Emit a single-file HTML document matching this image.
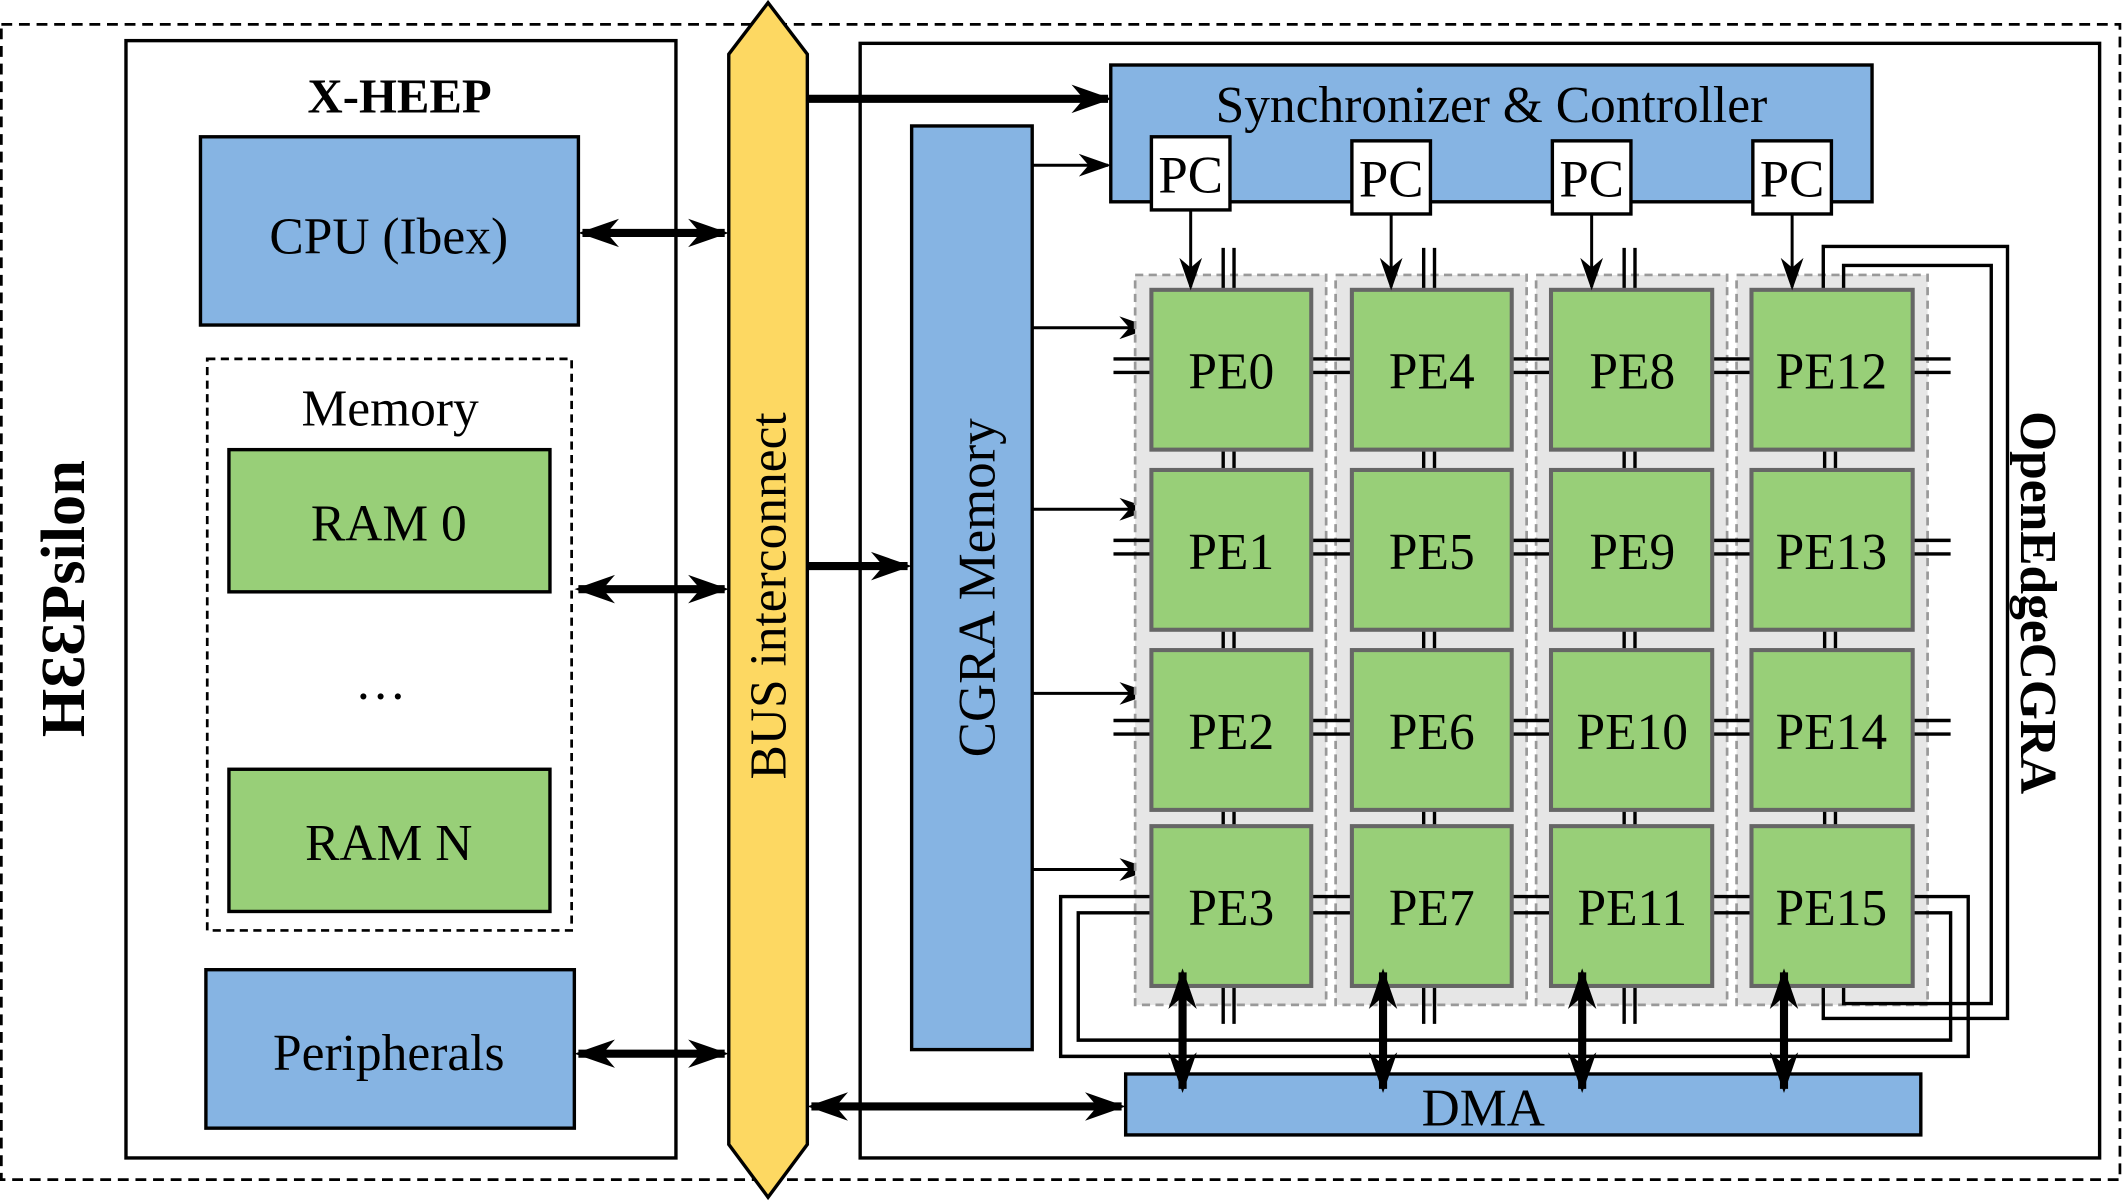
<!DOCTYPE html>
<html><head><meta charset="utf-8"><style>html,body{margin:0;padding:0;background:#fff}svg{display:block}</style></head>
<body>
<svg width="2124" height="1204" viewBox="0 0 1568 889" preserveAspectRatio="none" xmlns="http://www.w3.org/2000/svg" font-family="Liberation Serif, serif">
<defs>
<marker id="a" viewBox="0 0 10 10" markerWidth="24" markerHeight="24" refX="9" refY="5" orient="auto-start-reverse" markerUnits="userSpaceOnUse"><path d="M0,1.5 L10,5 L0,8.5 L3,5 z"/></marker>
<marker id="aB" viewBox="0 0 10 10" markerWidth="30" markerHeight="30" refX="9" refY="5" orient="auto-start-reverse" markerUnits="userSpaceOnUse"><path d="M0,1.5 L10,5 L0,8.5 L3,5 z"/></marker>
</defs>
<rect x="1" y="18" width="1564" height="853" fill="none" stroke="#000" stroke-width="2" stroke-dasharray="8,5"/>
<text transform="translate(62,442) rotate(-90)" font-size="46" font-weight="bold" text-anchor="middle">HƐƐPsilon</text>

<rect x="93" y="30" width="406" height="825" fill="none" stroke="#000" stroke-width="2.5"/>
<text x="295" y="83" font-size="36" font-weight="bold" text-anchor="middle">X-HEEP</text>
<rect x="148" y="101" width="279" height="139" fill="#86b4e3" stroke="#000" stroke-width="2.5"/>
<text x="287" y="187" font-size="38" text-anchor="middle">CPU (Ibex)</text>
<rect x="153" y="265" width="269" height="422" fill="none" stroke="#000" stroke-width="2" stroke-dasharray="6,4"/>
<text x="288" y="314" font-size="38" text-anchor="middle">Memory</text>
<rect x="169" y="332" width="237" height="105" fill="#98cf78" stroke="#000" stroke-width="2.5"/>
<text x="287" y="399" font-size="38" text-anchor="middle">RAM 0</text>
<text x="281" y="516" font-size="38" text-anchor="middle">…</text>
<rect x="169" y="568" width="237" height="105" fill="#98cf78" stroke="#000" stroke-width="2.5"/>
<text x="287" y="635" font-size="38" text-anchor="middle">RAM N</text>
<rect x="152" y="716" width="272" height="117" fill="#86b4e3" stroke="#000" stroke-width="2.5"/>
<text x="287" y="790" font-size="38" text-anchor="middle">Peripherals</text>

<polygon points="538,40 567,2 596,40 596,845 567,884 538,845" fill="#fdd862" stroke="#000" stroke-width="2.5"/>
<text transform="translate(580,440) rotate(-90)" font-size="38" text-anchor="middle">BUS interconnect</text>

<g stroke="#000" stroke-width="6" fill="none">
<line x1="430" y1="172" x2="535" y2="172" marker-start="url(#aB)" marker-end="url(#aB)"/>
<line x1="427" y1="435" x2="535" y2="435" marker-start="url(#aB)" marker-end="url(#aB)"/>
<line x1="427" y1="778" x2="535" y2="778" marker-start="url(#aB)" marker-end="url(#aB)"/>
<line x1="596" y1="73" x2="818" y2="73" marker-end="url(#aB)"/>
<line x1="596" y1="418" x2="670" y2="418" marker-end="url(#aB)"/>
<line x1="599" y1="817" x2="828" y2="817" marker-start="url(#aB)" marker-end="url(#aB)"/>
</g>

<rect x="635" y="32" width="915" height="823" fill="none" stroke="#000" stroke-width="2.5"/>
<text transform="translate(1492,445) rotate(90)" font-size="38" font-weight="bold" text-anchor="middle">OpenEdgeCGRA</text>

<rect x="820" y="48" width="562" height="101" fill="#86b4e3" stroke="#000" stroke-width="2.5"/>
<text x="1101" y="90" font-size="38" text-anchor="middle">Synchronizer &amp; Controller</text>

<rect x="673" y="93" width="89" height="682" fill="#86b4e3" stroke="#000" stroke-width="2.5"/>
<text transform="translate(734,434) rotate(-90)" font-size="39" text-anchor="middle">CGRA Memory</text>

<g stroke="#000" stroke-width="2.2" fill="none">
<polyline points="762,122 818,122" marker-end="url(#a)"/>
<line x1="762" y1="242" x2="848" y2="242" marker-end="url(#a)"/>
<line x1="762" y1="376" x2="848" y2="376" marker-end="url(#a)"/>
<line x1="762" y1="512" x2="848" y2="512" marker-end="url(#a)"/>
<line x1="762" y1="642" x2="848" y2="642" marker-end="url(#a)"/>
</g>

<g fill="#e6e6e6" stroke="#999" stroke-width="2" stroke-dasharray="6,4">
<rect x="838" y="203" width="141" height="539"/>
<rect x="986" y="203" width="141" height="539"/>
<rect x="1134" y="203" width="141" height="539"/>
<rect x="1282" y="203" width="141" height="539"/>
</g>

<g stroke="#000" stroke-width="2.5" fill="none">
<polyline points="1346,214 1346,182 1482,182 1482,752 1346,752 1346,728"/>
<polyline points="1361,214 1361,196 1470,196 1470,741 1361,741 1361,728"/>
<polyline points="850,662 783,662 783,780 1453,780 1453,662 1412,662"/>
<polyline points="850,674 796,674 796,768 1440,768 1440,674 1412,674"/>
</g>

<g stroke="#000" stroke-width="2.5">
<path d="M903,183V214M911,183V214M1051,183V214M1059,183V214M1199,183V214M1207,183V214"/>
<path d="M903,332V347M911,332V347M1051,332V347M1059,332V347M1199,332V347M1207,332V347M1347,332V347M1355,332V347"/>
<path d="M903,465V480M911,465V480M1051,465V480M1059,465V480M1199,465V480M1207,465V480M1347,465V480M1355,465V480"/>
<path d="M903,598V610M911,598V610M1051,598V610M1059,598V610M1199,598V610M1207,598V610M1347,598V610M1355,598V610"/>
<path d="M903,728V756M911,728V756M1051,728V756M1059,728V756M1199,728V756M1207,728V756"/>
<path d="M822,265H850M822,275H850M968,265H998M968,275H998M1116,265H1145M1116,275H1145M1264,265H1293M1264,275H1293M1412,265H1440M1412,275H1440"/>
<path d="M822,399H850M822,409H850M968,399H998M968,409H998M1116,399H1145M1116,409H1145M1264,399H1293M1264,409H1293M1412,399H1440M1412,409H1440"/>
<path d="M822,532H850M822,542H850M968,532H998M968,542H998M1116,532H1145M1116,542H1145M1264,532H1293M1264,542H1293M1412,532H1440M1412,542H1440"/>
<path d="M968,662H998M968,674H998M1116,662H1145M1116,674H1145M1264,662H1293M1264,674H1293"/>
</g>

<g fill="#98cf78" stroke="#666" stroke-width="3">
<rect x="850" y="214" width="118" height="118"/><rect x="998" y="214" width="118" height="118"/><rect x="1145" y="214" width="119" height="118"/><rect x="1293" y="214" width="119" height="118"/>
<rect x="850" y="347" width="118" height="118"/><rect x="998" y="347" width="118" height="118"/><rect x="1145" y="347" width="119" height="118"/><rect x="1293" y="347" width="119" height="118"/>
<rect x="850" y="480" width="118" height="118"/><rect x="998" y="480" width="118" height="118"/><rect x="1145" y="480" width="119" height="118"/><rect x="1293" y="480" width="119" height="118"/>
<rect x="850" y="610" width="118" height="118"/><rect x="998" y="610" width="118" height="118"/><rect x="1145" y="610" width="119" height="118"/><rect x="1293" y="610" width="119" height="118"/>
</g>
<g font-size="38" text-anchor="middle">
<text x="909" y="287">PE0</text><text x="1057" y="287">PE4</text><text x="1205" y="287">PE8</text><text x="1352" y="287">PE12</text>
<text x="909" y="420">PE1</text><text x="1057" y="420">PE5</text><text x="1205" y="420">PE9</text><text x="1352" y="420">PE13</text>
<text x="909" y="553">PE2</text><text x="1057" y="553">PE6</text><text x="1205" y="553">PE10</text><text x="1352" y="553">PE14</text>
<text x="909" y="683">PE3</text><text x="1057" y="683">PE7</text><text x="1205" y="683">PE11</text><text x="1352" y="683">PE15</text>
</g>

<g fill="#fff" stroke="#000" stroke-width="2.5">
<rect x="850" y="101" width="58" height="54"/><rect x="998" y="104" width="58" height="54"/><rect x="1146" y="104" width="58" height="54"/><rect x="1294" y="104" width="58" height="54"/>
</g>
<g font-size="39" text-anchor="middle">
<text x="879" y="142">PC</text><text x="1027" y="145">PC</text><text x="1175" y="145">PC</text><text x="1323" y="145">PC</text>
</g>
<g stroke="#000" stroke-width="2.2">
<line x1="879" y1="155" x2="879" y2="212" marker-end="url(#a)"/>
<line x1="1027" y1="158" x2="1027" y2="212" marker-end="url(#a)"/>
<line x1="1175" y1="158" x2="1175" y2="212" marker-end="url(#a)"/>
<line x1="1323" y1="158" x2="1323" y2="212" marker-end="url(#a)"/>
</g>

<rect x="831" y="793" width="587" height="45" fill="#86b4e3" stroke="#000" stroke-width="2.5"/>
<text x="1095" y="831" font-size="39" text-anchor="middle">DMA</text>

<g stroke="#000" stroke-width="6">
<line x1="873" y1="718" x2="873" y2="804" marker-start="url(#aB)" marker-end="url(#aB)"/>
<line x1="1021" y1="718" x2="1021" y2="804" marker-start="url(#aB)" marker-end="url(#aB)"/>
<line x1="1168" y1="718" x2="1168" y2="804" marker-start="url(#aB)" marker-end="url(#aB)"/>
<line x1="1317" y1="718" x2="1317" y2="804" marker-start="url(#aB)" marker-end="url(#aB)"/>
</g>
</svg>
</body></html>
